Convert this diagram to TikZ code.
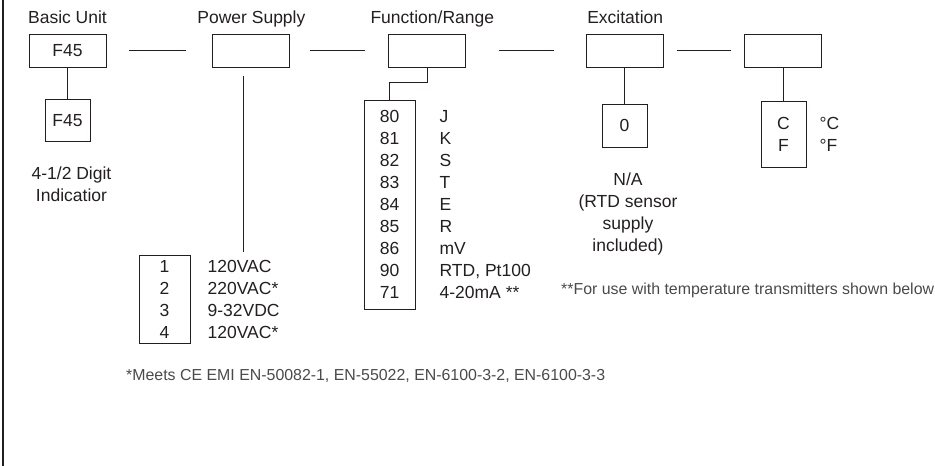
\documentclass[tikz,border=0pt]{standalone}
\usepackage{fontspec}
\setmainfont{Liberation Sans}
\usetikzlibrary{positioning, calc}

\definecolor{ink}{HTML}{231F20}
\definecolor{note}{HTML}{4A4A4A}

\begin{document}
\begin{tikzpicture}[
        x=1pt, y=1pt,
        every node/.style={text=ink, font=\fontsize{17.5}{22}\selectfont},
        box/.style={rectangle, draw=ink, line width=0.9pt, minimum width=77pt, minimum height=33pt, inner sep=0pt},
        subbox/.style={rectangle, draw=ink, line width=0.9pt, minimum width=45pt, inner sep=0pt, align=center},
        listbox/.style={rectangle, draw=ink, line width=0.9pt, minimum width=51pt, inner sep=0pt, align=center},
        head/.style={inner sep=0pt, text depth=0pt},
        desc/.style={inner sep=0pt, align=left},
        caption/.style={inner sep=0pt, align=center},
        footnote/.style={inner sep=0pt, anchor=west, text=note, font=\fontsize{15.9}{18}\selectfont},
        link/.style={draw=ink, line width=0.9pt}
    ]

    \useasboundingbox (0,0) rectangle (935,-466);

    % Frame line on the left
    \draw[ink, line width=2pt] (2.5,0) -- (2.5,-466);

    % Order code boxes
    \node[box] (basic) at (67.5,-50.5) {F45};
    \node[box, right=106pt of basic] (power) {};
    \node[box, right=98pt of power] (func) {};
    \node[box, right=120pt of func] (excit) {};
    \node[box, right=80pt of excit] (scale) {};

    % Headings
    \node[head, above=10pt of basic] {Basic Unit};
    \node[head, above=10pt of power] {Power Supply};
    \node[head, above=10pt of func, xshift=5pt] {Function/Range};
    \node[head, above=10pt of excit] {Excitation};

    % Dashes between the boxes
    \draw[link] ([xshift=23pt]basic.east) -- ([xshift=-26pt]power.west);
    \draw[link] ([xshift=20pt]power.east) -- ([xshift=-23pt]func.west);
    \draw[link] ([xshift=33pt]func.east) -- ([xshift=-32pt]excit.west);
    \draw[link] ([xshift=13pt]excit.east) -- ([xshift=-13pt]scale.west);

    % Basic unit
    \node[subbox, minimum height=42pt, below=32pt of basic] (basicsub) {F45};
    \node[caption, below=24pt of basicsub, xshift=4pt] (basiccap) {4-1/2 Digit\\Indicatior};
    \draw[link] (basic.south) -- (basicsub.north);

    % Power supply
    \node[listbox, minimum height=88pt] (powercodes) at (164.5,-299) {1\\2\\3\\4};
    \node[desc, right=17pt of powercodes] (powertext) {120VAC\\220VAC*\\9-32VDC\\120VAC*};
    \draw[link] ($(power.south -| powertext.north)+(0,-9)$) -- ($(powertext.north)+(0,8)$);

    % Function / range
    \node[listbox, minimum height=209pt] (funccodes) at (389.5,-204.5) {80\\81\\82\\83\\84\\85\\86\\90\\71};
    \node[desc, right=24pt of funccodes] (functext) {J\\K\\S\\T\\E\\R\\mV\\RTD, Pt100\\4-20mA **};
    \draw[link] (func.south) -- ++(0,-15) -| (funccodes.north);

    % Excitation
    \node[subbox, minimum height=43pt] (excitsub) at (624.5,-125.5) {0};
    \node[caption, below=25pt of excitsub, xshift=3.5pt] (excitcap) {N/A\\(RTD sensor\\supply\\included)};
    \draw[link] (excitsub.north) -- (excitsub.north |- excit.south);

    % Temperature scale
    \node[subbox, minimum height=66pt] (scalesub) at (783.5,-134) {C\\F};
    \node[desc, right=13pt of scalesub] (scaletext) {°C\\°F};
    \draw[link] (scalesub.north) -- (scalesub.north |- scale.south);

    % Notes
    \node[footnote] (funcnote) at (561,-290) {**For use with temperature transmitters shown below};
    \node[footnote] (powernote) at (126,-376) {*Meets CE EMI EN-50082-1, EN-55022, EN-6100-3-2, EN-6100-3-3};

\end{tikzpicture}
\end{document}
